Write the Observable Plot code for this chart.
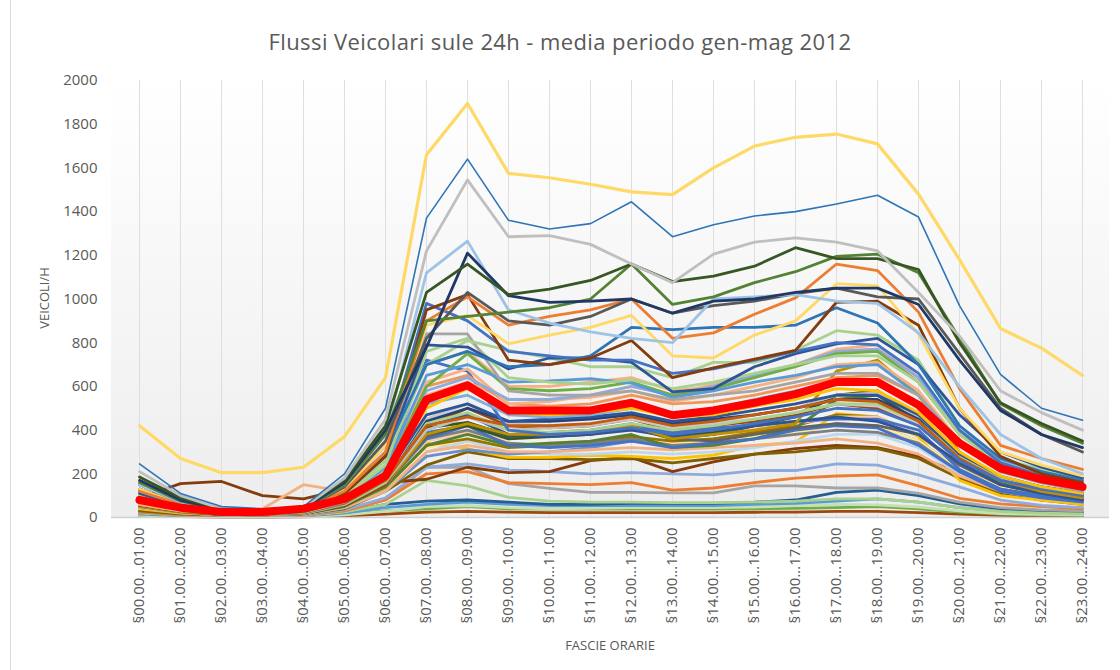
<!DOCTYPE html>
<html>
<head>
<meta charset="utf-8">
<script src="https://cdn.jsdelivr.net/npm/d3@7"></script>
<script src="https://cdn.jsdelivr.net/npm/@observablehq/plot@0.6"></script>
<style>
  html, body { margin: 0; padding: 0; background: #ffffff; }
  #wrap { position: relative; width: 1120px; height: 670px; overflow: hidden; font-family: "Open Sans", "Noto Sans", sans-serif; }
  #border { position: absolute; left: 10px; top: 0; width: 1px; height: 670px; background: #d9d9d9; }
  #title { position: absolute; left: 0; width: 1120px; top: 26px; text-align: center; font-size: 22px; letter-spacing: 0.4px; color: #595959; }
  #ylab { position: absolute; left: 44px; top: 298px; transform: translate(-50%, -50%) rotate(-90deg); font-size: 13px; color: #595959; white-space: nowrap; }
  #xlab { position: absolute; left: 610px; top: 645px; transform: translate(-50%, -50%); font-size: 13px; color: #595959; white-space: nowrap; }
  #chart { position: absolute; left: 0; top: 0; }
</style>
</head>
<body>
<div id="wrap">
  <div id="border"></div>
  <div id="chart"></div>
  <div id="title">Flussi Veicolari sule 24h - media periodo gen-mag 2012</div>
  <div id="ylab">VEICOLI/H</div>
  <div id="xlab">FASCIE ORARIE</div>
</div>
<script>
const hours = ["§00.00...01.00","§01.00...02.00","§02.00...03.00","§03.00...04.00","§04.00...05.00","§05.00...06.00",
  "§06.00...07.00","§07.00...08.00","§08.00...09.00","§09.00...10.00","§10.00...11.00","§11.00...12.00",
  "§12.00...13.00","§13.00...14.00","§14.00...15.00","§15.00...16.00","§16.00...17.00","§17.00...18.00",
  "§18.00...19.00","§19.00...20.00","§20.00...21.00","§21.00...22.00","§22.00...23.00","§23.00...24.00"];
const yTicks = [0,200,400,600,800,1000,1200,1400,1600,1800,2000];

// one array per station (vehicles/hour, 24 hourly bands)
const s26 = [8,4,2,2,3,8,15,25,28,25,22,22,22,22,22,24,25,28,28,22,15,10,8,6];
const s25 = [12,6,4,3,5,15,30,40,50,40,38,38,38,38,38,40,42,45,50,40,25,15,12,10];
const s27 = [10,5,3,3,4,12,28,50,55,45,40,42,45,45,45,48,55,60,58,48,30,18,14,12];
const s24 = [15,8,5,4,6,20,45,60,70,60,55,55,55,55,55,60,65,75,85,70,45,30,22,18];
const s23 = [20,10,6,5,8,25,60,75,80,70,60,60,65,65,65,70,80,115,125,100,62,40,30,25];
const s28 = [20,10,6,5,8,25,60,170,145,92,75,70,70,68,68,70,75,85,85,70,45,28,20,16];
const s22 = [25,12,8,6,10,30,80,230,230,155,133,115,115,113,113,145,145,135,135,110,70,45,35,30];
const s21 = [25,12,8,6,10,30,80,200,210,160,155,150,160,125,135,160,180,190,195,145,88,62,50,40];
const s20 = [30,15,10,8,12,35,90,230,245,220,210,200,205,200,195,215,215,245,240,195,140,80,55,45];
const s14 = [90,155,165,100,85,130,160,175,230,205,210,260,275,210,255,290,315,330,320,280,200,120,90,70];
const s15 = [30,15,10,10,15,40,120,240,300,270,270,265,270,250,270,290,300,320,315,270,180,110,80,60];
const s17 = [40,20,12,10,15,50,130,340,315,275,275,285,280,270,285,330,345,475,460,370,170,100,80,60];
const s61 = [45,22,12,10,15,45,120,300,350,300,290,290,300,290,300,320,350,380,380,320,200,120,90,70];
const s41 = [45,22,12,10,15,45,120,280,310,290,300,320,350,340,360,380,400,430,420,350,220,140,100,80];
const s42 = [45,22,12,10,15,45,120,300,330,300,300,310,320,310,320,330,340,360,340,290,190,120,90,70];
const s49 = [50,25,13,11,16,50,140,320,360,330,340,350,370,340,350,370,390,420,420,350,220,140,105,80];
const s44 = [55,28,14,12,18,55,140,330,360,320,330,340,370,350,360,390,420,470,460,380,240,150,110,85];
const s57 = [50,25,13,11,16,50,140,350,390,360,370,380,400,370,390,410,430,460,460,380,240,150,115,90];
const s62 = [55,28,14,12,18,55,150,360,400,340,330,340,360,330,340,360,380,400,390,340,210,130,100,80];
const s39 = [50,25,12,10,15,50,140,330,380,330,340,350,380,320,330,360,410,540,560,440,260,160,120,90];
const sB2 = [60,30,15,12,20,60,160,360,420,330,320,330,350,320,340,360,400,420,410,330,210,120,90,70];
const s40 = [55,28,14,12,18,55,150,370,430,380,390,400,430,360,350,380,410,430,420,380,240,150,115,90];
const s59 = [60,30,15,13,18,60,160,390,420,370,380,390,420,390,410,420,440,450,450,400,220,130,100,80];
const s38 = [60,30,15,12,18,60,160,380,420,360,370,380,410,360,380,420,470,560,580,460,280,170,130,100];
const s52 = [55,28,14,12,18,55,150,410,435,375,380,390,410,370,390,420,460,560,560,440,270,170,130,100];
const sB1 = [80,40,20,18,25,70,180,430,470,380,370,380,400,370,380,420,440,460,440,380,250,150,110,80];
const s16 = [50,25,15,12,18,60,150,380,430,380,380,390,420,360,380,400,430,670,720,560,300,170,120,90];
const s54 = [55,28,14,12,18,55,150,420,500,420,410,420,450,400,420,440,470,520,500,420,260,170,130,100];
const s48 = [60,30,15,13,18,60,160,400,460,400,410,420,450,420,440,470,500,560,570,460,280,180,140,110];
const s63 = [65,32,16,14,20,65,170,450,520,430,420,430,450,410,430,450,480,520,510,430,270,170,130,100];
const s53 = [60,30,15,13,18,60,160,440,500,440,440,450,470,430,450,470,500,540,540,450,280,180,140,110];
const s45 = [60,30,15,12,18,60,160,430,480,400,390,400,430,400,420,450,480,520,520,440,280,180,140,110];
const s43 = [65,32,16,14,20,65,170,420,460,420,420,430,460,420,440,470,500,540,530,440,270,170,130,100];
const s47 = [70,35,18,16,22,70,190,470,520,440,450,460,480,440,460,490,520,560,560,470,290,190,140,110];
const s50 = [90,45,22,20,28,90,230,720,670,400,380,390,410,380,400,430,460,500,490,420,260,170,130,100];
const s55 = [70,35,18,16,22,70,190,520,560,470,460,470,500,470,500,540,580,620,630,520,330,210,160,130];
const s18 = [70,35,20,18,30,80,200,500,590,480,470,480,500,460,470,510,540,590,580,480,300,190,140,110];
const s64 = [75,38,20,18,25,75,200,560,620,540,540,550,580,530,560,600,640,700,710,580,350,220,170,130];
const s31 = [75,38,20,18,25,75,200,600,650,520,510,520,560,520,530,560,600,640,650,560,340,220,170,140];
const s13 = [60,30,20,40,150,120,260,700,760,600,600,620,640,580,600,650,700,760,770,620,380,250,200,160];
const s30 = [80,40,20,18,26,80,210,620,680,520,530,560,600,560,610,650,700,770,790,640,400,260,200,160];
const s46 = [90,45,22,20,28,90,230,580,640,540,540,560,600,560,600,650,700,760,770,640,400,260,200,160];
const s51 = [80,40,20,18,25,80,210,600,750,590,580,590,620,560,590,640,690,750,760,620,380,250,190,150];
const s29 = [90,45,22,20,28,90,230,650,700,620,625,635,615,550,580,620,650,690,700,560,340,220,170,130];
const s65 = [95,48,24,21,28,95,240,760,820,640,620,610,630,590,620,660,700,740,740,620,380,240,180,140];
const s33 = [100,50,25,22,30,110,280,840,840,580,560,560,580,540,560,580,620,660,660,560,330,210,160,120];
const s12 = [100,50,25,22,30,100,260,700,810,765,730,690,690,640,710,710,765,855,835,720,420,270,220,180];
const s11 = [110,55,28,25,35,110,280,790,780,680,730,730,710,575,590,690,750,795,820,700,470,300,230,180];
const s60 = [130,60,30,26,36,130,330,980,900,760,740,720,720,660,680,720,760,800,790,660,400,250,190,150];
const s35 = [120,55,28,25,35,120,300,700,760,690,700,740,870,860,870,870,880,960,890,700,420,270,210,170];
const s10 = [130,60,30,25,35,110,280,950,1020,720,700,730,810,640,685,725,765,985,990,880,500,280,200,160];
const s32 = [130,60,30,25,35,130,330,880,925,795,835,870,925,740,730,835,900,1070,1060,840,500,300,240,190];
const s09 = [120,60,30,25,35,120,300,900,1010,880,920,950,1000,820,845,930,1005,1160,1130,940,590,330,270,220];
const s08 = [150,70,30,28,38,140,350,820,1030,900,880,920,1000,935,970,990,1025,1050,1010,1000,750,500,380,300];
const s04 = [150,70,35,30,40,150,380,1120,1265,950,890,850,820,800,1000,1010,1020,990,980,845,600,380,270,200];
const s07 = [160,75,35,30,40,150,380,900,920,940,960,1000,1160,975,1010,1075,1125,1195,1205,1120,820,520,420,340];
const s05 = [170,80,35,30,40,160,400,780,1210,1015,985,990,1000,935,990,1000,1030,1050,1050,975,720,490,380,320];
const s06 = [185,90,40,35,45,170,420,1030,1160,1020,1045,1085,1160,1080,1105,1150,1235,1185,1185,1135,800,525,430,350];
const s03 = [210,100,40,35,45,180,450,1220,1545,1285,1290,1250,1160,1075,1205,1260,1280,1260,1220,1030,830,580,480,400];
const s02 = [245,110,50,40,50,200,500,1370,1640,1360,1320,1345,1445,1285,1340,1380,1400,1435,1475,1375,970,655,500,445];
const s01 = [420,270,205,205,230,370,640,1660,1895,1575,1555,1525,1490,1478,1600,1700,1740,1755,1710,1480,1180,865,775,650];
const average = [80,45,25,25,40,85,190,540,605,490,490,490,525,468,490,525,565,620,620,515,340,225,175,140];

const flows = [s26,s25,s27,s24,s23,s28,s22,s21,s20,s14,s15,s17,s61,s41,s42,s49,s44,s57,s62,s39,sB2,s40,s59,s38,s52,sB1,s16,
  s54,s48,s63,s53,s45,s43,s47,s50,s55,s18,s64,s31,s13,s30,s46,s51,s29,s65,s33,s12,s11,s60,s35,s10,s32,s09,s08,s04,s07,s05,s06,s03,s02,s01];

// styles (kept separate from the values)
const flowColors = ["#9E480E","#70AD47","#C5E0B4","#5B9BD5","#255E91","#A9D18E","#A5A5A5","#ED7D31","#8FAADC","#843C0C",
  "#7F6000","#FFC000","#BDD7EE","#698ED0","#F4B183","#FFE699","#997300","#F8CBAD","#7F7F7F","#548235","#4472C4","#636363",
  "#4472C4","#385723","#375623","#2F5597","#BF9000","#9E480E","#BFBFBF","#C9C9C9","#264478","#A9D18E","#C55A11",
  "#2F5597","#4472C4","#7CAFDD","#FFC000","#F4B183","#F1975A","#F4B183","#F4B183","#8FAADC","#70AD47","#5B9BD5","#A9D18E",
  "#A5A5A5","#A9D18E","#2F5597","#4472C4","#2E75B6","#843C0C","#FFD966","#ED7D31","#595959","#9DC3E6",
  "#548235","#203864","#375623","#BFBFBF","#2E75B6","#FFD966"];
const flowWidths = flows.map((_, i) => i === flows.length - 2 ? 1.6 : (i === flows.length - 1 ? 3.2 : 2.8));

const lineMarks = flows.map((vals, i) =>
  Plot.line(vals.map((v, j) => ({h: hours[j], v})), {
    x: "h", y: "v", stroke: flowColors[i], strokeWidth: flowWidths[i],
    strokeLinejoin: "round", strokeLinecap: "round"
  })
);

const chart = Plot.plot({
  width: 1120,
  height: 670,
  marginLeft: 111,
  marginRight: 11,
  marginTop: 80,
  marginBottom: 153,
  style: {background: "transparent", fontFamily: "'Open Sans', 'Noto Sans', sans-serif", fontSize: "15px", color: "#595959"},
  x: {type: "point", domain: hours, padding: 0.5},
  y: {domain: [0, 2000]},
  marks: [
    Plot.ruleX(hours, {x: d => d, y1: 0, y2: 2000, stroke: "#dedede", strokeWidth: 1}),
    ...lineMarks,
    Plot.line(average.map((v, j) => ({h: hours[j], v})), {x: "h", y: "v", stroke: "#FF0000", strokeWidth: 8, strokeLinejoin: "round", strokeLinecap: "round"}),
    Plot.ruleY([0], {stroke: "#d0d0d0", strokeWidth: 1.5}),
    Plot.axisY({ticks: yTicks, tickFormat: d => String(d), tickSize: 0, tickPadding: 14, label: null, fontSize: 15}),
    Plot.axisX({tickRotate: -90, tickSize: 0, tickPadding: 10, label: null, fontSize: 15})
  ]
});

// soft gradient background for the plot area
const svg = d3.select(chart);
const defs = svg.insert("defs", ":first-child");
const grad = defs.append("linearGradient").attr("id", "pa-grad").attr("x1", 0).attr("y1", 0).attr("x2", 0).attr("y2", 1);
grad.append("stop").attr("offset", "0%").attr("stop-color", "#ffffff");
grad.append("stop").attr("offset", "100%").attr("stop-color", "#ededed");
svg.insert("rect", "defs + *").attr("x", 111).attr("y", 80).attr("width", 998).attr("height", 437).attr("fill", "url(#pa-grad)");

document.getElementById("chart").appendChild(chart);
</script>
</body>
</html>
